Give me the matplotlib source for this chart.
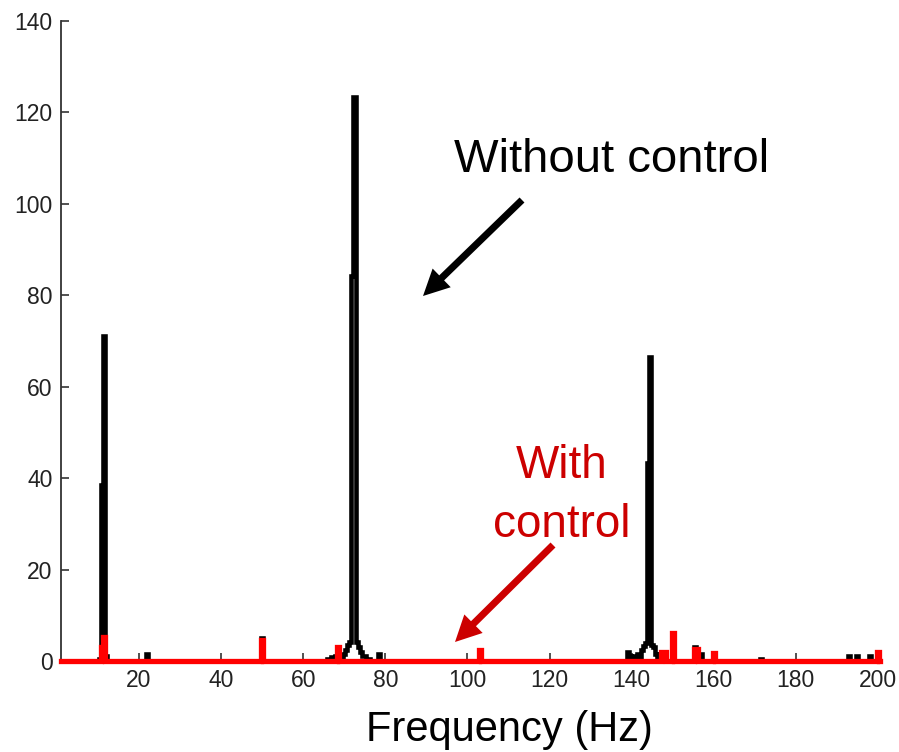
import numpy as np
import matplotlib
matplotlib.use("Agg")
import matplotlib.pyplot as plt
from matplotlib.patches import FancyArrow

plt.rcParams['font.family'] = ['Liberation Sans', 'DejaVu Sans']

# ---- data (frequency in Hz -> amplitude) ----
black_freq = [10.5, 11.0, 11.5, 12.0, 22.0, 50.0,
              66.0, 67.0, 68.0, 69.0, 70.0, 70.5, 71.0, 71.5, 72.0, 72.5,
              73.0, 73.5, 74.0, 74.5, 75.0, 76.0, 78.5,
              139.0, 139.5, 140.5, 141.5, 142.5, 143.0, 143.5, 144.0, 144.5,
              145.0, 145.5, 146.0, 147.0,
              155.5, 156.0, 157.0, 160.0, 171.5, 193.0, 195.0, 198.0]
black_amp = [0.5, 38.4, 71.1, 1.0, 1.5, 5.0,
             0.5, 0.8, 1.0, 1.0, 1.5, 2.5, 3.5, 4.2, 84.2, 123.4,
             4.2, 3.0, 2.0, 1.2, 1.0, 0.5, 1.5,
             2.0, 1.0, 1.0, 1.5, 2.5, 3.3, 4.0, 43.3, 66.6,
             3.5, 3.0, 1.5, 1.5,
             3.0, 2.5, 1.5, 1.5, 0.5, 1.0, 1.2, 1.0]

red_freq = [11.0, 11.5, 50.0, 68.5, 103.0, 147.5, 148.0, 150.0,
            155.5, 156.0, 160.0, 200.0]
red_amp = [3.0, 5.2, 4.5, 3.0, 2.3, 2.0, 2.0, 6.1,
           2.6, 2.6, 1.7, 2.0]

x_ticks = [20, 40, 60, 80, 100, 120, 140, 160, 180, 200]
y_ticks = [0, 20, 40, 60, 80, 100, 120, 140]
x_label = "Frequency (Hz)"

# spectrum grid (0.5 Hz bins), zero except the readings above
grid = np.arange(1.0, 200.51, 0.5)
def spectrum(freqs, amps):
    a = np.zeros_like(grid)
    for f, v in zip(freqs, amps):
        a[np.argmin(np.abs(grid - f))] = v
    return a

black = spectrum(black_freq, black_amp)
red = spectrum(red_freq, red_amp)

W, H = 899, 752
fig = plt.figure(figsize=(W / 100, H / 100), dpi=100)
ax = fig.add_axes([61 / W, 1 - 661 / H, (880 - 61) / W, (661 - 21) / H])

ax.plot(grid, black, color='black', lw=3.3, drawstyle='steps-mid',
        clip_on=False, zorder=2, solid_joinstyle='miter')
ax.plot(grid, red, color='#ff0000', lw=3.8, drawstyle='steps-mid',
        clip_on=False, zorder=3, solid_joinstyle='miter')

ax.set_xlim(1.0, 200.5)
ax.set_ylim(0, 140)
ax.set_xticks(x_ticks)
ax.set_yticks(y_ticks)
for s in ['top', 'right']:
    ax.spines[s].set_visible(False)
for s in ['left', 'bottom']:
    ax.spines[s].set_color('#333333')
    ax.spines[s].set_linewidth(1.3)
ax.tick_params(direction='in', length=6, width=1.2, color='#333333',
               labelsize=16.5, labelcolor='#222222', pad=6)

# x label placed like the reference
fig.text(509 / W, 1 - 741 / H, x_label, ha='center', va='baseline',
         fontsize=30, color='black')

# annotations
fig.text(612 / W, 1 - 172 / H, "Without control", ha='center', va='baseline',
         fontsize=34, color='black')
fig.text(562 / W, 1 - 478 / H, "With", ha='center', va='baseline',
         fontsize=33, color='#cc0000')
fig.text(562 / W, 1 - 537 / H, "control", ha='center', va='baseline',
         fontsize=33, color='#cc0000')

def arrow(x0, y0, x1, y1, color):
    X0, Y0 = x0 / 100, (H - y0) / 100
    X1, Y1 = x1 / 100, (H - y1) / 100
    a = FancyArrow(X0, Y0, X1 - X0, Y1 - Y0, width=0.07, head_width=0.26,
                   head_length=0.26, length_includes_head=True,
                   transform=fig.dpi_scale_trans, color=color, lw=0)
    fig.add_artist(a)

arrow(522, 200, 423, 296, 'black')
arrow(553, 545, 455, 642, '#cc0000')

fig.savefig("out.png", dpi=100)
